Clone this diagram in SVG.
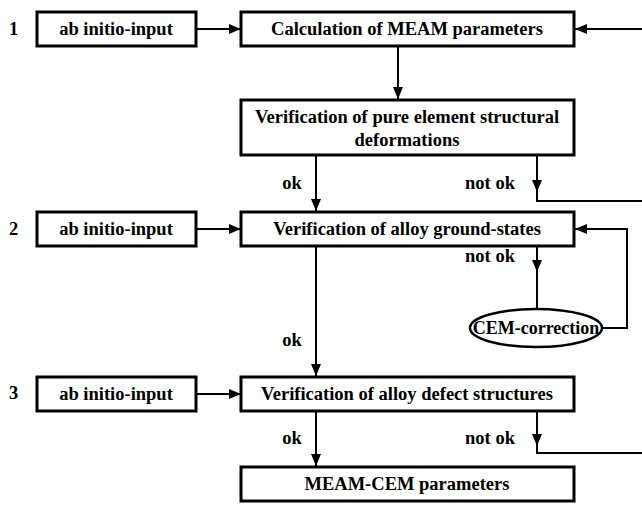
<svg xmlns="http://www.w3.org/2000/svg" width="642" height="506" viewBox="0 0 642 506">
  <style>
    .box { fill: #fff; stroke: #000; stroke-width: 3; }
    .edge { fill: none; stroke: #000; stroke-width: 2; }
    text { font-family: 'Liberation Serif', 'Times New Roman', 'DejaVu Serif', serif; font-weight: bold; font-size: 18.5px; fill: #000; }
    .lbl { text-anchor: middle; }
  </style>
  <defs>
    <marker id="arrow" viewBox="0 0 12 10" refX="12" refY="5" markerWidth="12" markerHeight="10" markerUnits="userSpaceOnUse" orient="auto">
      <path d="M0,0 L12,5 L0,10 Z" fill="#000"/>
    </marker>
  </defs>

  <!-- step numbers -->
  <text x="9" y="35">1</text>
  <text x="9" y="235">2</text>
  <text x="9" y="399">3</text>

  <!-- connectors -->
  <g id="connectors">
    <path class="edge" d="M196,29 H241" marker-end="url(#arrow)"/>
    <path class="edge" d="M642,29 H575" marker-end="url(#arrow)"/>
    <path class="edge" d="M398,46 V99" marker-end="url(#arrow)"/>
    <path class="edge" d="M316,155 V211" marker-end="url(#arrow)"/>
    <path class="edge" d="M537,155 V192" marker-end="url(#arrow)"/>
    <path class="edge" d="M537,190 V201 H642"/>
    <path class="edge" d="M196,229 H241" marker-end="url(#arrow)"/>
    <path class="edge" d="M602,328 H627 V229 H575" marker-end="url(#arrow)"/>
    <path class="edge" d="M537,246 V272" marker-end="url(#arrow)"/>
    <path class="edge" d="M537,270 V309"/>
    <path class="edge" d="M316,246 V376" marker-end="url(#arrow)"/>
    <path class="edge" d="M196,394 H241" marker-end="url(#arrow)"/>
    <path class="edge" d="M316,411 V466" marker-end="url(#arrow)"/>
    <path class="edge" d="M537,411 V446" marker-end="url(#arrow)"/>
    <path class="edge" d="M537,444 V453 H642"/>
    <text class="lbl" x="292" y="189">ok</text>
    <text class="lbl" x="490" y="189">not ok</text>
    <text class="lbl" x="490" y="262">not ok</text>
    <text class="lbl" x="292" y="346">ok</text>
    <text class="lbl" x="292" y="444">ok</text>
    <text class="lbl" x="490" y="444">not ok</text>
  </g>

  <g id="input1">
    <rect class="box" x="37" y="12" width="159" height="34"/>
    <text class="lbl" x="116" y="35">ab initio-input</text>
  </g>
  <g id="meam-calc">
    <rect class="box" x="241" y="12" width="333" height="34"/>
    <text class="lbl" x="407" y="35">Calculation of MEAM parameters</text>
  </g>
  <g id="pure-verify">
    <rect class="box" x="241" y="100" width="333" height="55"/>
    <text class="lbl" x="407" y="123">Verification of pure element structural</text>
    <text class="lbl" x="407" y="146">deformations</text>
  </g>
  <g id="input2">
    <rect class="box" x="37" y="212" width="159" height="34"/>
    <text class="lbl" x="116" y="235">ab initio-input</text>
  </g>
  <g id="ground-verify">
    <rect class="box" x="241" y="212" width="333" height="34"/>
    <text class="lbl" x="407" y="235">Verification of alloy ground-states</text>
  </g>
  <g id="cem-correction">
    <ellipse cx="536" cy="328" rx="66" ry="19" fill="#fff" stroke="#000" stroke-width="2.5"/>
    <text class="lbl" x="536" y="334" style="font-size:18px">CEM-correction</text>
  </g>
  <g id="input3">
    <rect class="box" x="37" y="377" width="159" height="34"/>
    <text class="lbl" x="116" y="400">ab initio-input</text>
  </g>
  <g id="defect-verify">
    <rect class="box" x="241" y="377" width="333" height="34"/>
    <text class="lbl" x="407" y="400">Verification of alloy defect structures</text>
  </g>
  <g id="meam-cem">
    <rect class="box" x="241" y="467" width="333" height="34"/>
    <text class="lbl" x="407" y="490">MEAM-CEM parameters</text>
  </g>
</svg>
